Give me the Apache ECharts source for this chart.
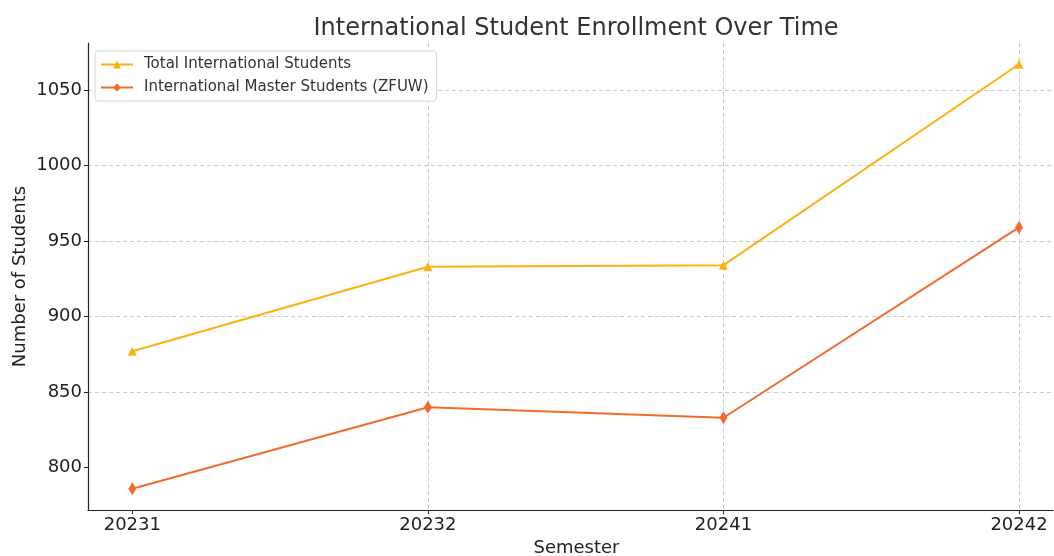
<!DOCTYPE html>
<html>
<head>
<meta charset="utf-8">
<script src="https://cdn.jsdelivr.net/npm/echarts@6/dist/echarts.min.js"></script>
<style>
  html, body { margin: 0; padding: 0; background: #fff; }
  #chart { width: 1054px; height: 556px; }
</style>
</head>
<body>
<div id="chart"></div>
<script>
    // 数据
    var semesters = ['20231', '20232', '20241', '20242'];
    var totalStudents = [877, 933, 934, 1067];
    var masterStudents = [786, 840, 833, 959];
    var yTicks = [800, 850, 900, 950, 1000, 1050];

    var font = 'DejaVu Sans';
    var gridColor = '#cccccc';

    function toPoints(values) {
        return values.map(function (v, i) { return [i, v]; });
    }

    var chart = echarts.init(document.getElementById('chart'));
    chart.setOption({
        animation: false,
        textStyle: { fontFamily: font },
        title: {
            text: 'International Student Enrollment Over Time',
            left: 571, top: 12, textAlign: 'center',
            textStyle: { fontFamily: font, fontSize: 24, fontWeight: 'normal', color: '#333' }
        },
        legend: {
            left: 95, top: 51,
            orient: 'vertical',
            itemWidth: 32, itemHeight: 10, itemGap: 8,
            padding: [6, 8, 6, 5],
            backgroundColor: '#fff',
            borderColor: '#d6d6d6', borderWidth: 1, borderRadius: 3,
            textStyle: { fontFamily: font, fontSize: 15, color: '#333', padding: [0, 0, 0, 6] },
            data: ['Total International Students', 'International Master Students (ZFUW)']
        },
        grid: { left: 88, right: 1, top: 43, bottom: 46, outerBoundsMode: 'none' },
        xAxis: {
            type: 'value',
            min: -0.15, max: 3.115, splitNumber: 3,
            name: 'Semester', nameLocation: 'middle', nameGap: 29, nameMoveOverlap: false,
            nameTextStyle: { fontFamily: font, fontSize: 18, color: '#222', padding: [0, 0, 0, 12] },
            axisLine: { show: true, onZero: false, lineStyle: { color: '#222', width: 1.2 } },
            axisTick: { show: true, customValues: [0, 1, 2, 3], length: 4, lineStyle: { color: '#222' } },
            axisLabel: {
                customValues: [0, 1, 2, 3], margin: 6,
                fontFamily: font, fontSize: 18, color: '#222',
                formatter: function (v) { return semesters[Math.round(v)]; }
            },
            splitLine: {
                show: true,
                lineStyle: { type: [4, 3], width: 1,
                    color: ['transparent', gridColor, gridColor, gridColor, gridColor, 'transparent'] }
            }
        },
        yAxis: {
            type: 'value',
            min: 771.95, max: 1081.05, splitNumber: 5,
            name: 'Number of Students', nameLocation: 'middle', nameGap: 59, nameMoveOverlap: false,
            nameTextStyle: { fontFamily: font, fontSize: 18, color: '#222' },
            axisLine: { show: true, onZero: false, lineStyle: { color: '#222', width: 1.2 } },
            axisTick: { show: true, customValues: yTicks, length: 4, lineStyle: { color: '#222' } },
            axisLabel: {
                customValues: yTicks, margin: 6,
                fontFamily: font, fontSize: 18, color: '#222',
                formatter: function (v) { return String(Math.round(v)); }
            },
            splitLine: {
                show: true,
                lineStyle: { type: [4, 3], width: 1,
                    color: ['transparent', gridColor, gridColor, gridColor, gridColor, gridColor, gridColor, 'transparent'] }
            }
        },
        series: [
            {
                name: 'Total International Students',
                type: 'line',
                data: toPoints(totalStudents),
                symbol: 'triangle', symbolSize: 9,
                lineStyle: { color: '#FDB010', width: 2 },
                itemStyle: { color: '#FDB010' }
            },
            {
                name: 'International Master Students (ZFUW)',
                type: 'line',
                data: toPoints(masterStudents),
                symbol: 'diamond', symbolSize: [8, 13],
                lineStyle: { color: '#F26B2A', width: 2 },
                itemStyle: { color: '#F26B2A' }
            }
        ]
    });
</script>
</body>
</html>
